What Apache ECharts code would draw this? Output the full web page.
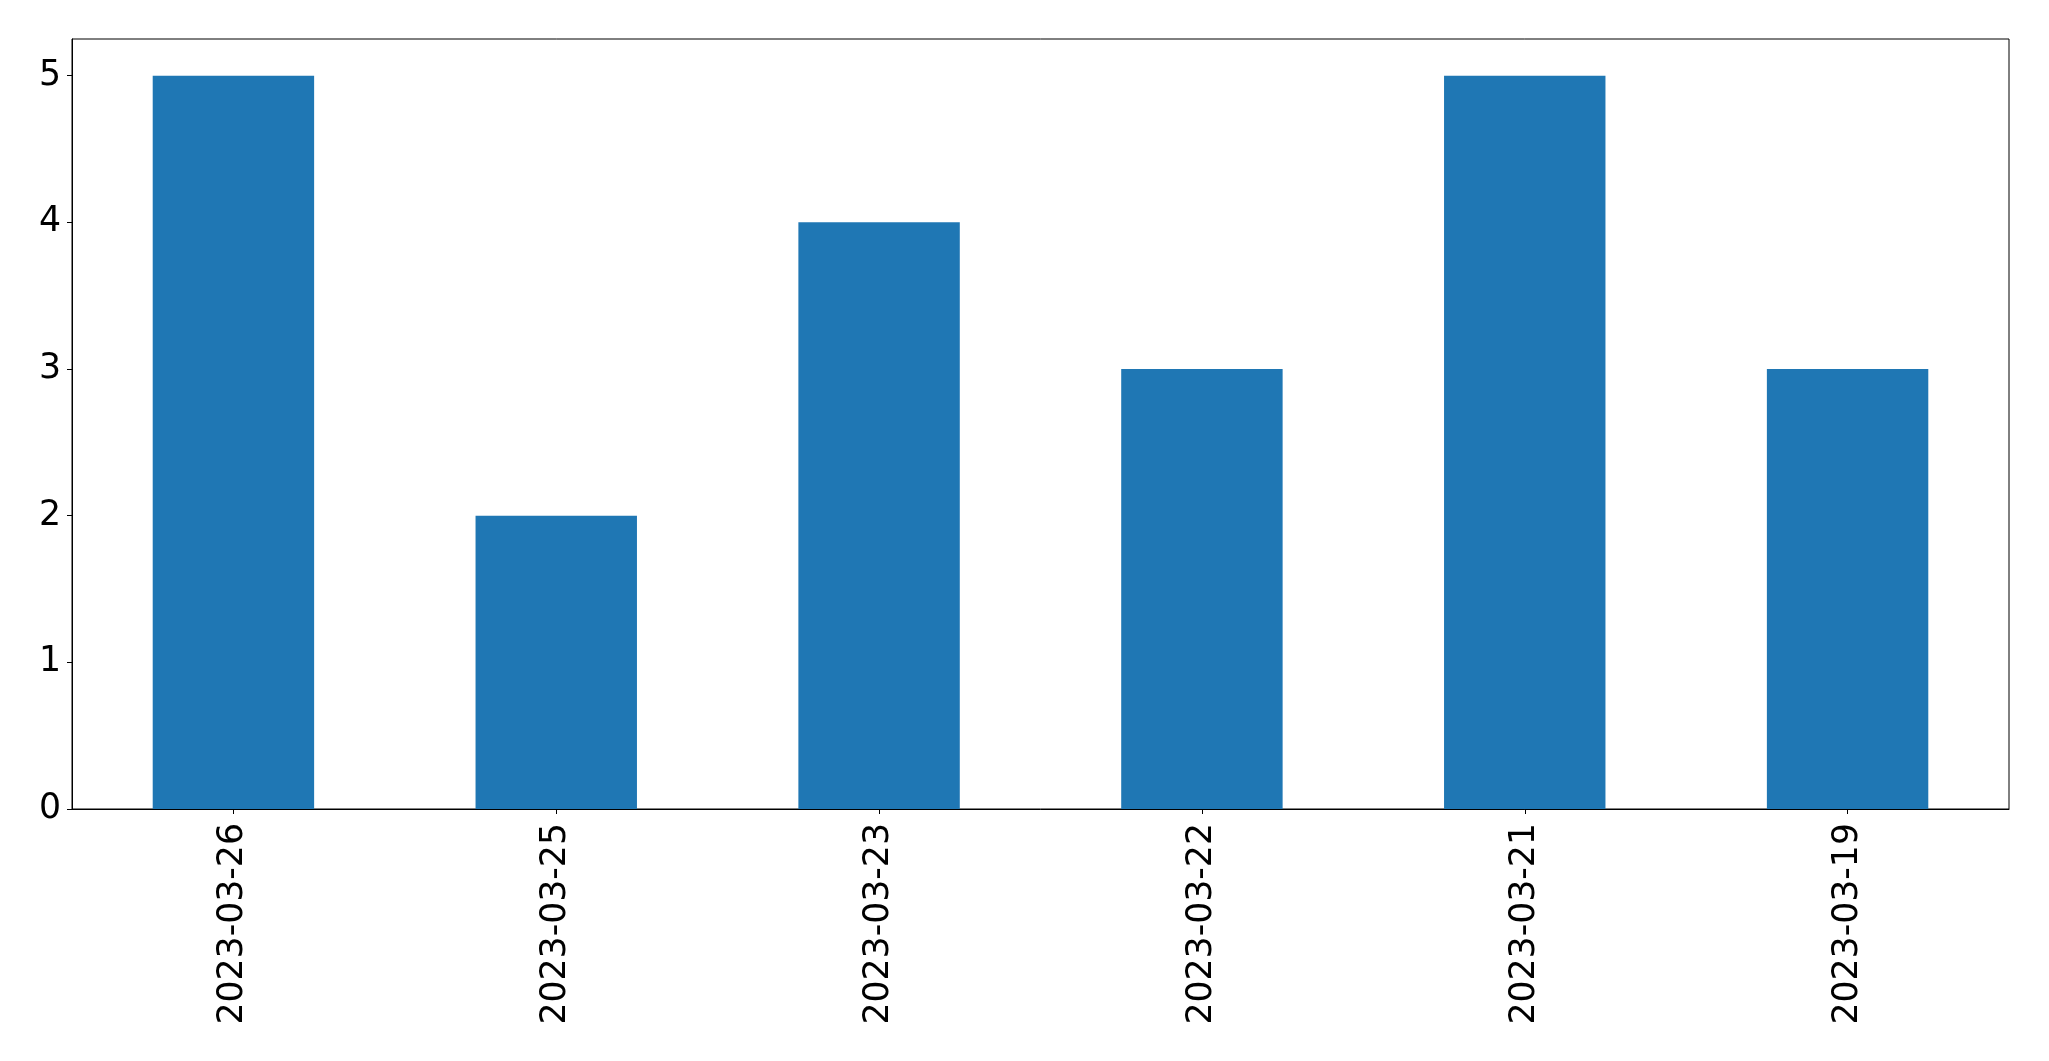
<!DOCTYPE html>
<html>
<head>
<meta charset="utf-8">
<script src="https://cdn.jsdelivr.net/npm/echarts@6/dist/echarts.min.js"></script>
<style>html,body{margin:0;padding:0;background:#fff;}#c{width:2049px;height:1061px;}</style>
</head>
<body>
<div id="c"></div>
<script>
const categories = ['2023-03-26','2023-03-25','2023-03-23','2023-03-22','2023-03-21','2023-03-19'];
const values = [5, 2, 4, 3, 5, 3];
const yTicks = [0, 1, 2, 3, 4, 5];

const chart = echarts.init(document.getElementById('c'), null, {renderer: 'canvas'});
const font = 'DejaVu Sans';
chart.setOption({
  animation: false,
  backgroundColor: '#ffffff',
  grid: {left: 72, top: 39, width: 1937, height: 770, show: true, borderColor: '#000', borderWidth: 1, backgroundColor: 'transparent'},
  xAxis: {
    type: 'category',
    data: categories,
    boundaryGap: true,
    axisLine: {show: true, lineStyle: {color: '#000', width: 1}},
    axisTick: {show: true, alignWithLabel: true, length: 5, lineStyle: {color: '#000', width: 1}},
    axisLabel: {rotate: 90, margin: 14, fontFamily: font, fontSize: 34.7, color: '#000'},
    splitLine: {show: false}
  },
  yAxis: {
    type: 'value',
    min: 0,
    max: 5.25,
    interval: 1,
    axisLine: {show: true, lineStyle: {color: '#000', width: 1}},
    axisTick: {show: true, length: 5, lineStyle: {color: '#000', width: 1}, customValues: yTicks},
    axisLabel: {margin: 11, fontFamily: font, fontSize: 34.7, color: '#000', customValues: yTicks},
    splitLine: {show: false}
  },
  series: [{
    type: 'bar',
    data: values,
    barWidth: '50%',
    itemStyle: {color: '#1f77b4'}
  }]
});
</script>
</body>
</html>
